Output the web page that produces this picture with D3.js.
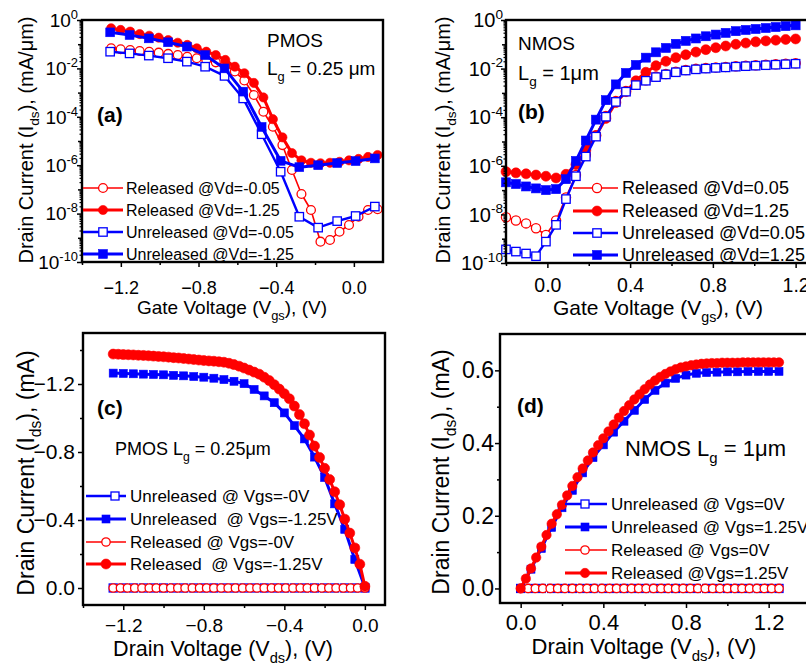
<!DOCTYPE html>
<html>
<head>
<meta charset="utf-8">
<script src="https://cdn.jsdelivr.net/npm/d3@7"></script>
<style>
  body { margin: 0; background: #fff; }
  svg text { font-family: "Liberation Sans", Arial, sans-serif; fill: #000; }
</style>
</head>
<body>
<svg id="fig" width="806" height="668"></svg>
<script>
// ---------- panel (a): PMOS transfer, values are log10(I) ----------
var aVgsRel = [-1.25,-1.201,-1.152,-1.103,-1.054,-1.005,-0.956,-0.907,-0.858,-0.809,-0.76,-0.711,-0.662,-0.613,-0.564,-0.515,-0.466,-0.417,-0.368,-0.319,-0.27,-0.221,-0.172,-0.123,-0.074,-0.025,0.024,0.073,0.122];
var aRelLowExp = [-1.17,-1.21,-1.24,-1.28,-1.31,-1.35,-1.40,-1.45,-1.52,-1.58,-1.65,-1.75,-1.86,-2.13,-2.5,-3.1,-3.79,-4.41,-5.17,-6.2,-7.19,-7.85,-9.16,-9.09,-8.75,-8.47,-8.13,-7.85,-7.82];
var aRelHighExp = [-0.34,-0.41,-0.48,-0.58,-0.65,-0.73,-0.83,-0.94,-1.03,-1.17,-1.31,-1.45,-1.65,-1.93,-2.2,-2.6,-3.2,-4.1,-4.85,-5.5,-5.8,-5.9,-5.92,-5.9,-5.86,-5.8,-5.74,-5.66,-5.58];
var aVgsUnrel = [-1.255,-1.155,-1.056,-0.957,-0.86,-0.766,-0.666,-0.57,-0.475,-0.377,-0.281,-0.184,-0.086,0.009,0.108];
var aUnrelLowExp = [-1.31,-1.38,-1.47,-1.58,-1.72,-1.93,-2.31,-3.24,-4.72,-6.27,-8.13,-8.58,-8.31,-8.1,-7.71];
var aUnrelHighExp = [-0.51,-0.62,-0.76,-0.92,-1.10,-1.45,-2.0,-2.96,-4.42,-5.82,-6.08,-6.0,-5.91,-5.83,-5.72];

// ---------- panel (b): NMOS transfer ----------
var bVgs = [-0.2,-0.152,-0.103,-0.055,-0.007,0.042,0.09,0.138,0.186,0.235,0.283,0.331,0.38,0.428,0.476,0.525,0.573,0.621,0.669,0.718,0.766,0.814,0.862,0.911,0.959,1.007,1.056,1.104,1.152,1.2];
var bRelLowExp = [-8.12,-8.25,-8.37,-8.57,-8.85,-8.25,-7.3,-6.38,-5.55,-4.75,-3.95,-3.33,-2.92,-2.66,-2.48,-2.33,-2.22,-2.13,-2.06,-2.01,-1.98,-1.95,-1.93,-1.9,-1.88,-1.86,-1.84,-1.82,-1.8,-1.78];
var bRelHighExp = [-6.24,-6.29,-6.33,-6.38,-6.43,-6.5,-6.35,-5.95,-5.35,-4.75,-4.05,-3.4,-2.95,-2.5,-2.15,-1.88,-1.7,-1.55,-1.43,-1.32,-1.22,-1.14,-1.07,-1.0,-0.95,-0.9,-0.86,-0.83,-0.8,-0.78];
var bUnrelLowExp = [-9.44,-9.53,-9.61,-9.72,-9.12,-8.43,-7.37,-6.43,-5.62,-4.8,-3.98,-3.37,-2.95,-2.68,-2.5,-2.35,-2.24,-2.15,-2.08,-2.03,-2.0,-1.97,-1.95,-1.92,-1.9,-1.88,-1.86,-1.84,-1.82,-1.8];
var bUnrelHighExp = [-6.68,-6.75,-6.85,-6.93,-7.0,-6.96,-6.55,-5.8,-4.96,-4.1,-3.3,-2.65,-2.18,-1.85,-1.55,-1.33,-1.15,-0.98,-0.86,-0.76,-0.67,-0.6,-0.53,-0.46,-0.41,-0.37,-0.33,-0.29,-0.25,-0.22];

// ---------- panel (c): PMOS output (mA) ----------
var cVdsFine = [-1.25,-1.225,-1.2,-1.175,-1.15,-1.125,-1.1,-1.075,-1.05,-1.025,-1.0,-0.975,-0.95,-0.925,-0.9,-0.875,-0.85,-0.825,-0.8,-0.775,-0.75,-0.725,-0.7,-0.675,-0.65,-0.625,-0.6,-0.575,-0.55,-0.525,-0.5,-0.475,-0.45,-0.425,-0.4,-0.375,-0.35,-0.325,-0.3,-0.275,-0.25,-0.225,-0.2,-0.175,-0.15,-0.125,-0.1,-0.075,-0.05,-0.025,0];
var cRelOn = [-1.376,-1.375,-1.373,-1.372,-1.371,-1.369,-1.368,-1.366,-1.364,-1.362,-1.36,-1.358,-1.355,-1.353,-1.35,-1.347,-1.344,-1.341,-1.338,-1.336,-1.334,-1.331,-1.328,-1.322,-1.314,-1.305,-1.294,-1.282,-1.27,-1.258,-1.24,-1.22,-1.196,-1.17,-1.143,-1.113,-1.07,-1.02,-0.966,-0.9,-0.835,-0.768,-0.704,-0.638,-0.566,-0.49,-0.405,-0.323,-0.236,-0.14,-0.01];
var cVdsStep = [-1.25,-1.2,-1.15,-1.1,-1.05,-1.0,-0.95,-0.9,-0.85,-0.8,-0.75,-0.7,-0.65,-0.6,-0.55,-0.5,-0.45,-0.4,-0.35,-0.3,-0.25,-0.2,-0.15,-0.1,-0.05,0];
var cUnrelOn = [-1.264,-1.262,-1.26,-1.258,-1.256,-1.254,-1.251,-1.248,-1.244,-1.24,-1.234,-1.226,-1.216,-1.202,-1.168,-1.13,-1.09,-1.03,-0.955,-0.877,-0.77,-0.65,-0.495,-0.345,-0.168,-0.005];
var cUnrelOff = [0,0,0,0,0,0,0,0,0,0,0,0,0,0,0,0,0,0,0,0,0,0,0,0,0,0];
var cVdsOff = [-1.25,-1.214,-1.179,-1.143,-1.107,-1.071,-1.036,-1.0,-0.964,-0.929,-0.893,-0.857,-0.821,-0.786,-0.75,-0.714,-0.679,-0.643,-0.607,-0.571,-0.536,-0.5,-0.464,-0.429,-0.393,-0.357,-0.321,-0.286,-0.25,-0.214,-0.179,-0.143,-0.107,-0.071,-0.036,0];
var cRelOff = [0,0,0,0,0,0,0,0,0,0,0,0,0,0,0,0,0,0,0,0,0,0,0,0,0,0,0,0,0,0,0,0,0,0,0,0];

// ---------- panel (d): NMOS output (mA) ----------
var dVdsFine = [0,0.025,0.05,0.075,0.1,0.125,0.15,0.175,0.2,0.225,0.25,0.275,0.3,0.325,0.35,0.375,0.4,0.425,0.45,0.475,0.5,0.525,0.55,0.575,0.6,0.625,0.65,0.675,0.7,0.725,0.75,0.775,0.8,0.825,0.85,0.875,0.9,0.925,0.95,0.975,1.0,1.025,1.05,1.075,1.1,1.125,1.15,1.175,1.2,1.225,1.25];
var dRelOn = [0,0.027,0.055,0.085,0.115,0.147,0.178,0.204,0.23,0.256,0.282,0.306,0.33,0.352,0.374,0.394,0.413,0.432,0.451,0.47,0.488,0.504,0.52,0.534,0.548,0.561,0.572,0.582,0.59,0.597,0.603,0.608,0.611,0.614,0.616,0.618,0.619,0.62,0.62,0.621,0.621,0.621,0.621,0.622,0.622,0.622,0.622,0.622,0.622,0.622,0.622];
var dVdsStep = [0,0.05,0.1,0.15,0.2,0.25,0.3,0.35,0.4,0.45,0.5,0.55,0.6,0.65,0.7,0.75,0.8,0.85,0.9,0.95,1.0,1.05,1.1,1.15,1.2,1.25];
var dUnrelOn = [0,0.053,0.11,0.168,0.222,0.27,0.318,0.36,0.395,0.43,0.46,0.49,0.52,0.545,0.565,0.578,0.587,0.592,0.594,0.595,0.596,0.596,0.597,0.597,0.597,0.597];
var dUnrelOff = [0,0,0,0,0,0,0,0,0,0,0,0,0,0,0,0,0,0,0,0,0,0,0,0,0,0];
var dVdsOff = [0,0.036,0.071,0.107,0.143,0.179,0.214,0.25,0.286,0.321,0.357,0.393,0.429,0.464,0.5,0.536,0.571,0.607,0.643,0.679,0.714,0.75,0.786,0.821,0.857,0.893,0.929,0.964,1.0,1.036,1.071,1.107,1.143,1.179,1.214,1.25];
var dRelOff = [0,0,0,0,0,0,0,0,0,0,0,0,0,0,0,0,0,0,0,0,0,0,0,0,0,0,0,0,0,0,0,0,0,0,0,0];

// ---------- ticks and labels ----------
var logMajorExp = [0,-2,-4,-6,-8,-10];
var aXMajor = [-1.2,-0.8,-0.4,0], aXMinor = [-1.4,-1.0,-0.6,-0.2];
var bXMajor = [0,0.4,0.8,1.2], bXMinor = [-0.2,0.2,0.6,1.0];
var cXMajor = [-1.2,-0.8,-0.4,0], cXMinor = [-1.4,-1.0,-0.6,-0.2];
var cYMajor = [-1.2,-0.8,-0.4,0], cYMinor = [-1.4,-1.0,-0.6,-0.2];
var dXMajor = [0,0.4,0.8,1.2], dXMinor = [0.2,0.6,1.0];
var dYMajor = [0,0.2,0.4,0.6], dYMinor = [0.1,0.3,0.5];

var aLegend = ["Released @Vd=-0.05","Released @Vd=-1.25","Unreleased @Vd=-0.05","Unreleased @Vd=-1.25"];
var bLegend = ["Released @Vd=0.05","Released @Vd=1.25","Unreleased @Vd=0.05","Unreleased @Vd=1.25"];
var cLegend = ["Unreleased @ Vgs=-0V","Unreleased  @ Vgs=-1.25V","Released @ Vgs=-0V","Released  @ Vgs=-1.25V"];
var dLegend = ["Unreleased @ Vgs=0V","Unreleased @ Vgs=1.25V","Released @ Vgs=0V","Released @Vgs=1.25V"];

var RED = "#ff0000", BLUE = "#0000ff";
var svg = d3.select("#fig");

// text with sub/superscript pieces: parts = [[str, "n"|"sub"|"sup"], ...]
function rich(text, parts, size) {
  var cur = 0;
  parts.forEach(function(p) {
    var kind = p[1] || "n";
    var target = kind === "sub" ? size * 0.32 : (kind === "sup" ? -size * 0.42 : 0);
    var t = text.append("tspan").text(p[0]).attr("dy", target - cur);
    if (kind !== "n") t.attr("font-size", size * 0.68);
    cur = target;
  });
  return text;
}

function drawMarks(g, pts, s) {
  var sel = g.selectAll(null).data(pts).enter();
  var m;
  if (s.shape === "circle") {
    m = sel.append("circle").attr("cx", function(d) { return d[0]; }).attr("cy", function(d) { return d[1]; }).attr("r", s.r);
  } else {
    m = sel.append("rect").attr("x", function(d) { return d[0] - s.r; }).attr("y", function(d) { return d[1] - s.r; })
      .attr("width", 2 * s.r).attr("height", 2 * s.r);
  }
  m.attr("fill", s.filled ? s.color : "#fff").attr("stroke", s.color).attr("stroke-width", s.filled ? 0.6 : 1.3);
}

function drawPanel(p) {
  var g = svg.append("g");
  var x = d3.scaleLinear().domain(p.xDomain).range([p.left, p.right]);
  var y = (p.log ? d3.scaleLog() : d3.scaleLinear()).domain(p.yDomain).range([p.bottom, p.top]);
  var yv = function(v) { return p.log ? y(Math.pow(10, v)) : y(v); };

  // series
  p.series.forEach(function(s) {
    var pts = s.x.map(function(v, i) { return [x(v), yv(s.y[i])]; });
    g.append("path").attr("d", d3.line()(pts)).attr("fill", "none")
      .attr("stroke", s.color).attr("stroke-width", s.lw).attr("stroke-linejoin", "round");
    drawMarks(g, pts, s);
  });

  // x axis
  g.append("g").attr("transform", "translate(0," + p.bottom + ")")
    .call(d3.axisBottom(x).tickValues(p.xMinor).tickSize(3).tickFormat(""))
    .call(function(a) { a.select(".domain").remove(); a.selectAll("line").attr("stroke-width", 1.5); });
  g.append("g").attr("transform", "translate(0," + p.bottom + ")")
    .call(d3.axisBottom(x).tickValues(p.xMajor).tickSize(5).tickPadding(p.xPad).tickFormat(d3.format(".1f")))
    .call(function(a) {
      a.select(".domain").remove();
      a.selectAll("line").attr("stroke-width", 1.5);
      a.selectAll("text").attr("font-size", p.xTickSize).attr("font-family", null).attr("fill", "#000");
    });

  // y axis
  if (p.log) {
    var minors = [];
    for (var e = -10; e < 0; e++) {
      [2,3,4,5,6,7,8,9].forEach(function(m) { minors.push(m * Math.pow(10, e)); });
    }
    g.append("g").attr("transform", "translate(" + p.left + ",0)")
      .call(d3.axisLeft(y).tickValues(minors).tickSize(2.5).tickFormat(""))
      .call(function(a) { a.select(".domain").remove(); a.selectAll("line").attr("stroke-width", 1.2); });
    g.append("g").attr("transform", "translate(" + p.left + ",0)")
      .call(d3.axisLeft(y).tickValues([1e-1,1e-3,1e-5,1e-7,1e-9]).tickSize(4).tickFormat(""))
      .call(function(a) { a.select(".domain").remove(); a.selectAll("line").attr("stroke-width", 1.5); });
    g.append("g").attr("transform", "translate(" + p.left + ",0)")
      .call(d3.axisLeft(y).tickValues(logMajorExp.map(function(e) { return Math.pow(10, e); })).tickSize(5).tickFormat(""))
      .call(function(a) { a.select(".domain").remove(); a.selectAll("line").attr("stroke-width", 1.5); });
    logMajorExp.forEach(function(e) {
      var t = g.append("text").attr("x", p.yLabelX).attr("y", yv(e) + p.yTickSize * 0.36)
        .attr("text-anchor", "end").attr("font-size", p.yTickSize);
      rich(t, [["10"], [e === 0 ? "0" : "-" + (-e), "sup"]], p.yTickSize);
    });
  } else {
    g.append("g").attr("transform", "translate(" + p.left + ",0)")
      .call(d3.axisLeft(y).tickValues(p.yMinor).tickSize(3).tickFormat(""))
      .call(function(a) { a.select(".domain").remove(); a.selectAll("line").attr("stroke-width", 1.5); });
    g.append("g").attr("transform", "translate(" + p.left + ",0)")
      .call(d3.axisLeft(y).tickValues(p.yMajor).tickSize(5).tickPadding(p.yPad).tickFormat(d3.format(".1f")))
      .call(function(a) {
        a.select(".domain").remove();
        a.selectAll("line").attr("stroke-width", 1.5);
        a.selectAll("text").attr("font-size", p.yTickSize).attr("font-family", null).attr("fill", "#000");
      });
  }

  // frame
  g.append("rect").attr("x", p.left).attr("y", p.top)
    .attr("width", p.right - p.left).attr("height", p.bottom - p.top)
    .attr("fill", "none").attr("stroke", "#000").attr("stroke-width", 2.4);

  // axis titles
  var xt = g.append("text").attr("x", p.xTitle[0]).attr("y", p.xTitle[1])
    .attr("text-anchor", "middle").attr("font-size", p.xTitleSize);
  rich(xt, p.xTitleParts, p.xTitleSize);
  var yt = g.append("text").attr("transform", "translate(" + p.yTitle[0] + "," + p.yTitle[1] + ") rotate(-90)")
    .attr("text-anchor", "middle").attr("font-size", p.yTitleSize);
  rich(yt, p.yTitleParts, p.yTitleSize);

  // panel tag and notes
  g.append("text").attr("x", p.tag[0]).attr("y", p.tag[1]).attr("font-size", 21)
    .attr("font-weight", "bold").text(p.tag[2]);
  p.notes.forEach(function(n) {
    var t = g.append("text").attr("x", n.x).attr("y", n.y).attr("font-size", n.size);
    rich(t, n.parts, n.size);
  });

  // legend
  var L = p.legend;
  L.rows.forEach(function(r, i) {
    var cy = L.y[i];
    var s = p.series[r.series];
    g.append("line").attr("x1", L.x0).attr("x2", L.x1).attr("y1", cy).attr("y2", cy)
      .attr("stroke", s.color).attr("stroke-width", s.lw);
    drawMarks(g, [[r.mx, cy]], s);
    g.append("text").attr("x", L.tx).attr("y", cy + L.size * 0.36).attr("font-size", L.size)
      .attr("xml:space", "preserve").style("white-space", "pre").text(r.label);
  });
}

var gateTitle = [["Gate Voltage (V"], ["gs", "sub"], ["), (V)"]];
var drainTitle = [["Drain Voltage (V"], ["ds", "sub"], ["), (V)"]];
var curTitleDens = [["Drain Current (I"], ["ds", "sub"], ["), (mA/\u03bcm)"]];
var curTitle = [["Drain Current (I"], ["ds", "sub"], ["), (mA)"]];

// panel (a)
drawPanel({
  left: 82, right: 383, top: 20, bottom: 262,
  xDomain: [-1.4, 0.15], yDomain: [1e-10, 1], log: true,
  xMajor: aXMajor, xMinor: aXMinor, xPad: 14, xTickSize: 18,
  yLabelX: 78, yTickSize: 19,
  xTitle: [232, 314], xTitleSize: 19, xTitleParts: gateTitle,
  yTitle: [33, 140], yTitleSize: 20, yTitleParts: curTitleDens,
  tag: [97, 122, "(a)"],
  notes: [
    {x: 267, y: 47, size: 19, parts: [["PMOS"]]},
    {x: 267, y: 75, size: 19, parts: [["L"], ["g", "sub"], [" = 0.25 \u03bcm"]]}
  ],
  series: [
    {x: aVgsRel, y: aRelLowExp, color: RED, shape: "circle", filled: false, r: 4.4, lw: 1.6},
    {x: aVgsRel, y: aRelHighExp, color: RED, shape: "circle", filled: true, r: 4.6, lw: 3},
    {x: aVgsUnrel, y: aUnrelLowExp, color: BLUE, shape: "square", filled: false, r: 4.2, lw: 2.4},
    {x: aVgsUnrel, y: aUnrelHighExp, color: BLUE, shape: "square", filled: true, r: 4.4, lw: 3}
  ],
  legend: {x0: 83, x1: 123, tx: 126, size: 16, y: [188, 210, 232, 254],
    rows: [
      {series: 0, label: aLegend[0], mx: 103}, {series: 1, label: aLegend[1], mx: 103},
      {series: 2, label: aLegend[2], mx: 103}, {series: 3, label: aLegend[3], mx: 103}
    ]}
});

// panel (b)
drawPanel({
  left: 506, right: 837, top: 20, bottom: 263,
  xDomain: [-0.2, 1.4], yDomain: [1e-10, 1], log: true,
  xMajor: bXMajor, xMinor: bXMinor, xPad: 10, xTickSize: 19.5,
  yLabelX: 503, yTickSize: 20,
  xTitle: [658, 315], xTitleSize: 21, xTitleParts: gateTitle,
  yTitle: [450, 140], yTitleSize: 20, yTitleParts: curTitleDens,
  tag: [518, 119, "(b)"],
  notes: [
    {x: 518, y: 50, size: 19, parts: [["NMOS"]]},
    {x: 518, y: 80, size: 20, parts: [["L"], ["g", "sub"], [" = 1\u03bcm"]]}
  ],
  series: [
    {x: bVgs, y: bRelLowExp, color: RED, shape: "circle", filled: false, r: 4.6, lw: 1.6},
    {x: bVgs, y: bRelHighExp, color: RED, shape: "circle", filled: true, r: 5, lw: 3},
    {x: bVgs, y: bUnrelLowExp, color: BLUE, shape: "square", filled: false, r: 4.2, lw: 2.4},
    {x: bVgs, y: bUnrelHighExp, color: BLUE, shape: "square", filled: true, r: 4.5, lw: 3}
  ],
  legend: {x0: 573, x1: 618, tx: 622, size: 18, y: [188, 211, 233, 255],
    rows: [
      {series: 0, label: bLegend[0], mx: 597}, {series: 1, label: bLegend[1], mx: 597},
      {series: 2, label: bLegend[2], mx: 597}, {series: 3, label: bLegend[3], mx: 597}
    ]}
});

// panel (c)
drawPanel({
  left: 83, right: 385, top: 333, bottom: 605,
  xDomain: [-1.4, 0.1], yDomain: [0.1, -1.5], log: false,
  xMajor: cXMajor, xMinor: cXMinor, xPad: 9, xTickSize: 19,
  yMajor: cYMajor, yMinor: cYMinor, yPad: 3, yTickSize: 21,
  xTitle: [223, 656], xTitleSize: 21.5, xTitleParts: drainTitle,
  yTitle: [34, 473], yTitleSize: 23, yTitleParts: curTitle,
  tag: [97, 415, "(c)"],
  notes: [
    {x: 115, y: 455, size: 18, parts: [["PMOS L"], ["g", "sub"], [" = 0.25\u03bcm"]]}
  ],
  series: [
    {x: cVdsStep, y: cUnrelOff, color: BLUE, shape: "square", filled: false, r: 4, lw: 2.4},
    {x: cVdsStep, y: cUnrelOn, color: BLUE, shape: "square", filled: true, r: 4, lw: 3},
    {x: cVdsOff, y: cRelOff, color: RED, shape: "circle", filled: false, r: 4.2, lw: 1.6},
    {x: cVdsFine, y: cRelOn, color: RED, shape: "circle", filled: true, r: 5, lw: 3}
  ],
  legend: {x0: 86, x1: 126, tx: 130, size: 17, y: [496, 519, 542, 564],
    rows: [
      {series: 0, label: cLegend[0], mx: 115}, {series: 1, label: cLegend[1], mx: 106},
      {series: 2, label: cLegend[2], mx: 106}, {series: 3, label: cLegend[3], mx: 106}
    ]}
});

// panel (d)
drawPanel({
  left: 500, right: 810, top: 334, bottom: 603,
  xDomain: [-0.1, 1.4], yDomain: [-0.04, 0.7], log: false,
  xMajor: dXMajor, xMinor: dXMinor, xPad: 6, xTickSize: 22,
  yMajor: dYMajor, yMinor: dYMinor, yPad: 1, yTickSize: 23,
  xTitle: [644, 654], xTitleSize: 22, xTitleParts: drainTitle,
  yTitle: [449, 472], yTitleSize: 23, yTitleParts: curTitle,
  tag: [517, 413, "(d)"],
  notes: [
    {x: 625, y: 456, size: 22, parts: [["NMOS L"], ["g", "sub"], [" = 1\u03bcm"]]}
  ],
  series: [
    {x: dVdsStep, y: dUnrelOff, color: BLUE, shape: "square", filled: false, r: 4, lw: 2.4},
    {x: dVdsStep, y: dUnrelOn, color: BLUE, shape: "square", filled: true, r: 4, lw: 3},
    {x: dVdsOff, y: dRelOff, color: RED, shape: "circle", filled: false, r: 4.2, lw: 1.6},
    {x: dVdsFine, y: dRelOn, color: RED, shape: "circle", filled: true, r: 4.7, lw: 3}
  ],
  legend: {x0: 565, x1: 607, tx: 611, size: 17, y: [504, 527, 550, 573],
    rows: [
      {series: 0, label: dLegend[0], mx: 585}, {series: 1, label: dLegend[1], mx: 585},
      {series: 2, label: dLegend[2], mx: 585}, {series: 3, label: dLegend[3], mx: 585}
    ]}
});
</script>
</body>
</html>
